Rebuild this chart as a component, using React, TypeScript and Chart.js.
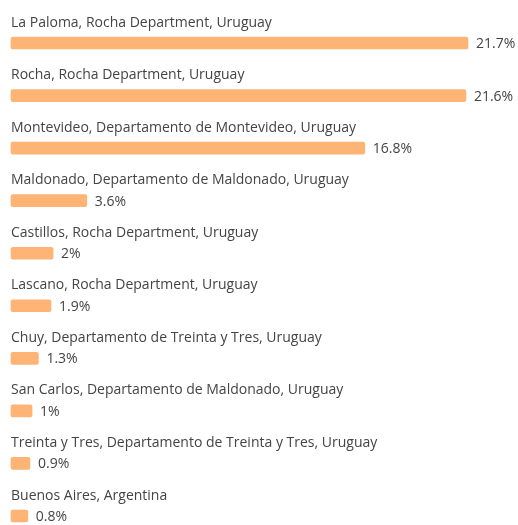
import React, { useEffect, useRef } from "react";
import { Chart, registerables } from "chart.js";

Chart.register(...registerables);

const categories = [
  "La Paloma, Rocha Department, Uruguay",
  "Rocha, Rocha Department, Uruguay",
  "Montevideo, Departamento de Montevideo, Uruguay",
  "Maldonado, Departamento de Maldonado, Uruguay",
  "Castillos, Rocha Department, Uruguay",
  "Lascano, Rocha Department, Uruguay",
  "Chuy, Departamento de Treinta y Tres, Uruguay",
  "San Carlos, Departamento de Maldonado, Uruguay",
  "Treinta y Tres, Departamento de Treinta y Tres, Uruguay",
  "Buenos Aires, Argentina",
];
const values = [21.7, 21.6, 16.8, 3.6, 2, 1.9, 1.3, 1, 0.9, 0.8];
const valueLabels = ["21.7%", "21.6%", "16.8%", "3.6%", "2%", "1.9%", "1.3%", "1%", "0.9%", "0.8%"];

const FONT = "'Open Sans', 'Noto Sans', sans-serif";
const TEXT = "#444444";

const labelPlugin = {
  id: "rowLabels",
  afterDatasetsDraw(chart: any) {
    const ctx = chart.ctx;
    const meta = chart.getDatasetMeta(0);
    ctx.save();
    ctx.fillStyle = TEXT;
    ctx.font = `14px ${FONT}`;
    meta.data.forEach((bar: any, i: number) => {
      const base = bar.base;
      ctx.textAlign = "left";
      ctx.textBaseline = "alphabetic";
      ctx.fillText(categories[i], base, bar.y - 16.5);
      ctx.textBaseline = "middle";
      ctx.fillText(valueLabels[i], bar.x + 8, bar.y + 1);
    });
    ctx.restore();
  },
};

export default function App() {
  const ref = useRef<HTMLCanvasElement>(null);
  useEffect(() => {
    document.body.style.margin = "0";
    const chart = new Chart(ref.current!, {
      type: "bar",
      data: {
        labels: categories,
        datasets: [
          {
            data: values,
            backgroundColor: "#FDB474",
            borderRadius: 2,
            borderSkipped: false,
            barThickness: 12,
            clip: false,
          } as any,
        ],
      },
      options: {
        indexAxis: "y",
        animation: false,
        responsive: false,
        maintainAspectRatio: false,
        layout: { padding: { left: 11, right: 50, top: 43, bottom: 9 } },
        plugins: { legend: { display: false }, tooltip: { enabled: false } },
        scales: {
          x: { display: false, min: 0, max: 21.7 },
          y: { display: false, offset: false },
        },
      },
      plugins: [labelPlugin],
    });
    return () => chart.destroy();
  }, []);
  return (
    <div style={{ width: 518, height: 525, background: "#fff" }}>
      <canvas ref={ref} width={518} height={525} />
    </div>
  );
}
